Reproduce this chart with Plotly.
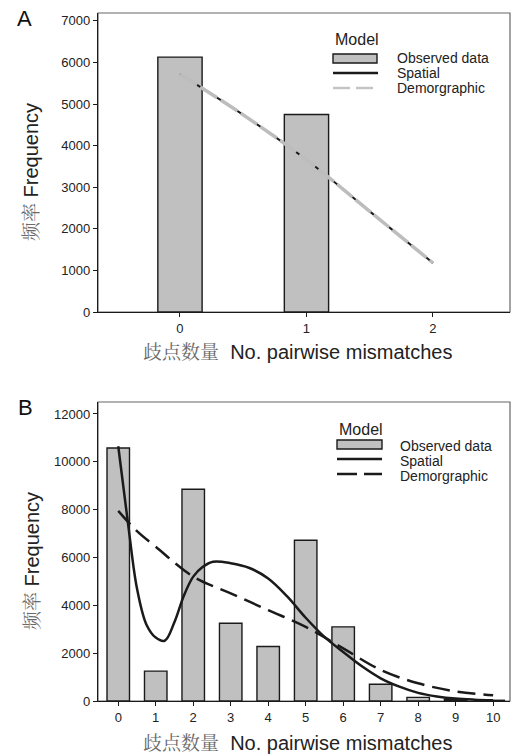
import plotly.graph_objects as go

# ---------------- Panel A data ----------------
a_categories = [0, 1]
a_observed = [6130, 4750]
a_model_x = [0, 0.5, 1, 1.5, 2]
a_spatial = [5720, 4740, 3660, 2420, 1180]
a_demographic = [5720, 4740, 3660, 2420, 1180]
a_xticks = [0, 1, 2]
a_yticks = [0, 1000, 2000, 3000, 4000, 5000, 6000, 7000]

# ---------------- Panel B data ----------------
b_categories = [0, 1, 2, 3, 4, 5, 6, 7, 8, 9, 10]
b_observed = [10580, 1250, 8850, 3250, 2280, 6720, 3100, 700, 150, 60, 30]
b_model_x = [0, 0.27, 0.5, 0.75, 1.0, 1.24, 1.5, 1.75, 2.0, 2.25, 2.53, 3.0, 3.5, 4.0, 4.5, 5.0,
             5.5, 6.0, 6.5, 7.0, 7.5, 8.0, 8.5, 9.0, 9.5, 10.0]
b_spatial = [10650, 7300, 4700, 3200, 2650, 2520, 3300, 4400, 5200, 5600, 5820, 5760, 5560, 5120,
             4380, 3480, 2680, 2050, 1450, 950, 600, 340, 190, 100, 55, 30]
b_demo_x = [0, 0.5, 1, 2, 3, 4, 5, 6, 7, 8, 9, 10]
b_demographic = [7950, 7100, 6450, 5200, 4500, 3800, 3100, 2200, 1300, 740, 400, 240]
b_xticks = [0, 1, 2, 3, 4, 5, 6, 7, 8, 9, 10]
b_yticks = [0, 2000, 4000, 6000, 8000, 10000, 12000]

legend_title = "Model"
legend_labels = ["Observed data", "Spatial", "Demorgraphic"]

FONT = "Liberation Sans, Arial, sans-serif"
BAR_FILL = "#c0c0c0"
INK = "#1a1a1a"

W, H = 513, 755
ML, MR, MT, MB = 98, 3, 13, 54
PW = W - ML - MR
PH = H - MT - MB


def px_x(p):
    return (p - ML) / PW


def px_y(p):
    return 1 - (p - MT) / PH


fig = go.Figure()

# Panel A traces
fig.add_trace(go.Bar(x=a_categories, y=a_observed, width=0.35, name=legend_labels[0],
                     marker=dict(color=BAR_FILL, line=dict(color=INK, width=1.4)),
                     xaxis="x", yaxis="y"))
fig.add_trace(go.Scatter(x=a_model_x, y=a_spatial, mode="lines", name=legend_labels[1],
                         line=dict(color=INK, width=2, shape="spline"),
                         xaxis="x", yaxis="y"))
fig.add_trace(go.Scatter(x=a_model_x, y=a_demographic, mode="lines", name=legend_labels[2],
                         line=dict(color="#bdbdbd", width=3.5, dash="20px,4px", shape="spline"),
                         xaxis="x", yaxis="y"))

# Panel B traces
fig.add_trace(go.Bar(x=b_categories, y=b_observed, width=0.6, name=legend_labels[0],
                     marker=dict(color=BAR_FILL, line=dict(color=INK, width=1.4)),
                     xaxis="x2", yaxis="y2"))
fig.add_trace(go.Scatter(x=b_model_x, y=b_spatial, mode="lines", name=legend_labels[1],
                         line=dict(color=INK, width=2.5, shape="spline", smoothing=1.0),
                         xaxis="x2", yaxis="y2"))
fig.add_trace(go.Scatter(x=b_demo_x, y=b_demographic, mode="lines", name=legend_labels[2],
                         line=dict(color=INK, width=2.5, dash="18px,8px", shape="spline"),
                         xaxis="x2", yaxis="y2"))

axis_common = dict(showline=True, linecolor=INK, linewidth=1.3, ticks="outside", ticklen=4,
                   tickcolor=INK, tickwidth=1.2, showgrid=False, zeroline=False,
                   tickformat="d",
                   tickfont=dict(family=FONT, size=13, color="#222"))

a_bottom = px_y(312)
b_top = px_y(402)

fig.update_layout(
    width=W, height=H,
    margin=dict(l=ML, r=MR, t=MT, b=MB),
    paper_bgcolor="white", plot_bgcolor="white",
    barmode="overlay",
    showlegend=False,
    font=dict(family=FONT, color="#222"),
    xaxis=dict(domain=[0, 1], range=[-0.648, 2.609], tickvals=a_xticks, anchor="y", **axis_common),
    yaxis=dict(domain=[a_bottom, 1], range=[0, 7190], tickvals=a_yticks, anchor="x", **axis_common),
    xaxis2=dict(domain=[0, 1], range=[-0.54, 10.45], tickvals=b_xticks, anchor="y2", **axis_common),
    yaxis2=dict(domain=[0, b_top], range=[0, 12500], tickvals=b_yticks, anchor="x2", **axis_common),
)

# Frames (top / right lines)
for xr, yr in [("x domain", "y domain"), ("x2 domain", "y2 domain")]:
    fig.add_shape(type="rect", xref=xr, yref=yr, x0=0, x1=1, y0=0, y1=1,
                  line=dict(color="#666", width=1.2), layer="below")

# ---------- Manual legends (pixel layout) ----------
legend_specs = [
    dict(title=(333, 40), box=(333, 377, 54, 63), line_x=(333, 378), sp_y=73, de_y=88,
         dashes=[(333, 350), (356, 373)], text_x=395, text_y=[58, 73, 88], demo_col="#c4c4c4", demo_w=2.5),
    dict(title=(337, 429), box=(337, 382, 440, 449), line_x=(337, 382), sp_y=459, de_y=474,
         dashes=[(337, 357), (364, 382)], text_x=398, text_y=[446, 461, 476], demo_col=INK, demo_w=2.5),
]
for spec in legend_specs:
    tx, ty = spec["title"]
    fig.add_annotation(text=legend_title, xref="paper", yref="paper", x=px_x(tx), y=px_y(ty),
                       xanchor="left", yanchor="middle", showarrow=False,
                       font=dict(family=FONT, size=16, color="#222"))
    x0, x1, y0, y1 = spec["box"]
    fig.add_shape(type="rect", xref="paper", yref="paper", x0=px_x(x0), x1=px_x(x1),
                  y0=px_y(y1), y1=px_y(y0), fillcolor=BAR_FILL, line=dict(color=INK, width=1.4))
    lx0, lx1 = spec["line_x"]
    fig.add_shape(type="line", xref="paper", yref="paper", x0=px_x(lx0), x1=px_x(lx1),
                  y0=px_y(spec["sp_y"]), y1=px_y(spec["sp_y"]), line=dict(color=INK, width=2.5))
    for dx0, dx1 in spec["dashes"]:
        fig.add_shape(type="line", xref="paper", yref="paper", x0=px_x(dx0), x1=px_x(dx1),
                      y0=px_y(spec["de_y"]), y1=px_y(spec["de_y"]),
                      line=dict(color=spec["demo_col"], width=spec["demo_w"]))
    for lab, yy in zip(legend_labels, spec["text_y"]):
        fig.add_annotation(text=lab, xref="paper", yref="paper", x=px_x(spec["text_x"]), y=px_y(yy),
                           xanchor="left", yanchor="middle", showarrow=False,
                           font=dict(family=FONT, size=14, color="#222"))

CJK_SPAN = '<span style="font-family:Noto Serif CJK SC, Noto Sans CJK SC; color:#6a6a6a; font-size:19px">{}</span>'
x_title_text = CJK_SPAN.format("歧点数量") + "  No. pairwise mismatches"
y_title_text = CJK_SPAN.format("频率") + " Frequency"

# Panel labels
fig.add_annotation(text="A", xref="paper", yref="paper", x=px_x(24), y=px_y(18),
                   showarrow=False, font=dict(family=FONT, size=22, color="#111"),
                   xanchor="center", yanchor="middle")
fig.add_annotation(text="B", xref="paper", yref="paper", x=px_x(25), y=px_y(407),
                   showarrow=False, font=dict(family=FONT, size=22, color="#111"),
                   xanchor="center", yanchor="middle")

# Axis titles
for x_title_y, y_title_c in [(350, 172), (741, 561)]:
    fig.add_annotation(text=x_title_text, xref="paper", yref="paper", x=px_x(297),
                       y=px_y(x_title_y), showarrow=False, xanchor="center", yanchor="middle",
                       font=dict(family=FONT, size=20, color="#222"))
    fig.add_annotation(text=y_title_text, xref="paper", yref="paper", x=px_x(30),
                       y=px_y(y_title_c), showarrow=False, xanchor="center", yanchor="middle",
                       textangle=-90, font=dict(family=FONT, size=20, color="#222"))

fig.write_html("out.html", config={"displayModeBar": False},
               post_script="document.body.style.margin='0';")
